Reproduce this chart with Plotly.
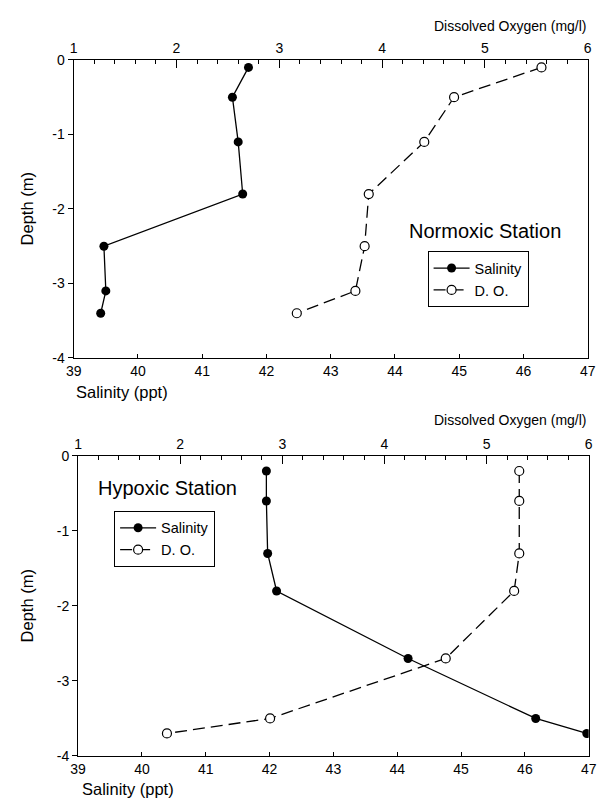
import plotly.graph_objects as go

# Normoxic station
depth_n = [-0.1, -0.5, -1.1, -1.8, -2.5, -3.1, -3.4]
sal_n = [41.72, 41.47, 41.56, 41.63, 39.47, 39.50, 39.42]
do_n = [5.55, 4.70, 4.41, 3.87, 3.83, 3.74, 3.17]

# Hypoxic station
depth_h = [-0.2, -0.6, -1.3, -1.8, -2.7, -3.5, -3.7]
sal_h = [41.95, 41.95, 41.97, 42.11, 44.17, 46.17, 46.97]
do_h = [5.32, 5.32, 5.32, 5.27, 4.60, 2.88, 1.87]

sal_ticks = [39, 40, 41, 42, 43, 44, 45, 46, 47]
do_ticks = [1, 2, 3, 4, 5, 6]
depth_ticks = [0, -1, -2, -3, -4]
depth_labels = ["0", "-1", "-2", "-3", "-4"]

FONT = "Liberation Sans, Arial, sans-serif"
W, H = 604, 811

fig = go.Figure()

def sal_trace(x, y, xa, ya, leg):
    return go.Scatter(x=x, y=y, xaxis=xa, yaxis=ya, mode="lines+markers",
                      name="Salinity", legend=leg,
                      line=dict(color="black", width=1.3),
                      marker=dict(symbol="circle", size=9, color="black"))

def do_trace(x, y, xa, ya, leg):
    return go.Scatter(x=x, y=y, xaxis=xa, yaxis=ya, mode="lines+markers",
                      name="D. O.", legend=leg,
                      line=dict(color="black", width=1.3, dash="12px,6px"),
                      marker=dict(symbol="circle", size=9, color="white",
                                  line=dict(color="black", width=1.2)))

fig.add_trace(sal_trace(sal_n, depth_n, "x", "y", "legend"))
fig.add_trace(do_trace(do_n, depth_n, "x2", "y", "legend"))
fig.add_trace(sal_trace(sal_h, depth_h, "x3", "y2", "legend2"))
fig.add_trace(do_trace(do_h, depth_h, "x4", "y2", "legend2"))

def px_x(p):
    return p / W

def px_y(p):
    return (H - p) / H

tickfont = dict(family=FONT, size=14, color="black")
common = dict(showgrid=False, zeroline=False, showline=True, linecolor="black",
              linewidth=1.2, tickcolor="black", tickwidth=1.2, tickfont=tickfont)

dom1 = [px_x(67.5), px_x(595.5)]
dom2 = [px_x(72), px_x(596.5)]
ydom1 = [px_y(357), px_y(53)]
ydom2 = [px_y(763), px_y(457)]

legfont = dict(family=FONT, size=14.5, color="black")

fig.update_layout(
    width=W, height=H, margin=dict(l=0, r=0, t=0, b=0),
    paper_bgcolor="white", plot_bgcolor="white",
    font=dict(family=FONT, color="black"),
    xaxis=dict(domain=dom1, anchor="y", range=[39, 47], tickvals=sal_ticks,
               ticks="inside", ticklen=4, **common),
    xaxis2=dict(overlaying="x", side="top", anchor="y", range=[1, 6],
                tickvals=do_ticks, ticks="inside", ticklen=8,
                minor=dict(dtick=0.2, ticks="inside", ticklen=4,
                           tickcolor="black", tickwidth=1.2),
                **common),
    yaxis=dict(domain=ydom1, anchor="x", range=[-4, 0], tickvals=depth_ticks,
               ticktext=depth_labels,
               ticks="outside", ticklen=5, mirror=True, **common),
    xaxis3=dict(domain=dom2, anchor="y2", range=[39, 47], tickvals=sal_ticks,
                ticks="inside", ticklen=4, **common),
    xaxis4=dict(overlaying="x3", side="top", anchor="y2", range=[1, 6],
                tickvals=do_ticks, ticks="inside", ticklen=8,
                minor=dict(dtick=0.2, ticks="inside", ticklen=4,
                           tickcolor="black", tickwidth=1.2),
                **common),
    yaxis2=dict(domain=ydom2, anchor="x3", range=[-4, 0], tickvals=depth_ticks,
                ticktext=depth_labels,
                ticks="outside", ticklen=5, mirror=True, **common),
    legend=dict(x=px_x(431), y=px_y(248), xanchor="left", yanchor="top",
                bordercolor="black", borderwidth=1, bgcolor="white",
                font=legfont, itemwidth=36, tracegroupgap=0),
    legend2=dict(x=px_x(109), y=px_y(513), xanchor="left", yanchor="top",
                 bordercolor="black", borderwidth=1, bgcolor="white",
                 font=legfont, itemwidth=36, tracegroupgap=0),
    showlegend=True,
)

ann = []
def text(x, y, s, size, xanchor="center", angle=0):
    ann.append(dict(x=px_x(x), y=px_y(y), xref="paper", yref="paper", text=s,
                    showarrow=False, xanchor=xanchor, yanchor="middle",
                    textangle=angle,
                    font=dict(family=FONT, size=size, color="black")))

text(68, 392, "Salinity (ppt)", 16.5, "left")
text(74, 797, "Salinity (ppt)", 16.5, "left")
text(597, 18, "Dissolved Oxygen (mg/l)", 14, "right")
text(597, 420, "Dissolved Oxygen (mg/l)", 14, "right")
text(19, 205, "Depth (m)", 16.5, angle=-90)
text(19, 610, "Depth (m)", 16.5, angle=-90)
text(490, 227, "Normoxic Station", 20)
text(164, 490, "Hypoxic Station", 20)
fig.update_layout(annotations=ann)

fig.write_html("out.html")
